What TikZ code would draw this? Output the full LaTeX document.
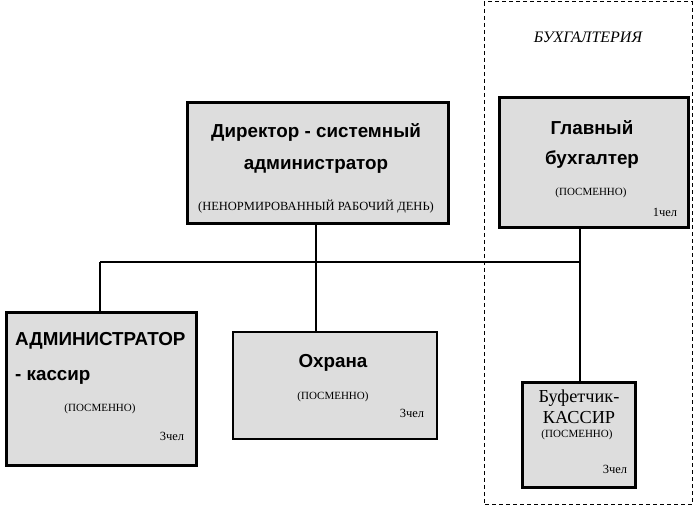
\documentclass[tikz,border=0pt]{standalone}
\usepackage{fontspec}
\setmainfont{Liberation Serif}
\newfontfamily\arialfont{Liberation Sans}
\usetikzlibrary{positioning}
\definecolor{boxgray}{RGB}{221,221,221}
\tikzstyle{unit} = [rectangle, draw=black, line width=3pt, fill=boxgray, inner sep=0pt, anchor=north west]
\tikzstyle{title} = [draw=none, fill=none, text centered, font=\arialfont\bfseries\fontsize{18.8}{22}\selectfont, inner sep=0pt]
\tikzstyle{serif} = [draw=none, fill=none, text centered, font=\fontsize{18.3}{21}\selectfont, inner sep=0pt]
\tikzstyle{note} = [draw=none, fill=none, font=\fontsize{11}{12}\selectfont, inner sep=0pt]
\tikzstyle{staff} = [draw=none, fill=none, font=\fontsize{12.5}{14}\selectfont, inner sep=0pt]
\tikzstyle{link} = [draw, line width=2.5pt]

\begin{document}
\begin{tikzpicture}[x=1pt, y=-1pt]
\useasboundingbox (0,0) rectangle (697,510);

% department =============================
\draw[dashed, line width=1pt, dash pattern=on 4pt off 3pt] (484,2) rectangle (692,505);
\node[note, font=\itshape\fontsize{16}{18}\selectfont] (dept) at (588,37) {БУХГАЛТЕРИЯ};

% boxes =============================
\node[unit, minimum width=261, minimum height=121] (dir) at (185.5,101.5) {};
\node[unit, minimum width=189, minimum height=130] (gb) at (497.5,96.5) {};
\node[unit, minimum width=190, minimum height=153] (adm) at (4.5,311.5) {};
\node[unit, line width=2pt, minimum width=204, minimum height=107] (ohr) at (232,331) {};
\node[unit, minimum width=113, minimum height=105] (buf) at (520.5,381.5) {};

% texts =============================
% director
\node[title] (dir1) at (316,132) {Директор - системный};
\node[title] (dir2) at (316,166) {администратор};
\node[note, font=\fontsize{12.5}{14}\selectfont] (dir3) at (316,207) {(НЕНОРМИРОВАННЫЙ РАБОЧИЙ ДЕНЬ)};

% chief accountant
\node[title] (gb1) at (592,128) {Главный};
\node[title] (gb2) at (592,160) {бухгалтер};
\node[note] (gb3) at (591,193) {(ПОСМЕННО)};
\node[staff] (gb4) at (665,212) {1чел};

% administrator
\node[title, anchor=west] (adm1) at (15,341) {АДМИНИСТРАТОР};
\node[title, anchor=west] (adm2) at (15,377) {- кассир};
\node[note] (adm3) at (100,409) {(ПОСМЕННО)};
\node[staff] (adm4) at (172,436) {3чел};

% guard
\node[title] (ohr1) at (333,363) {Охрана};
\node[note] (ohr2) at (333,397) {(ПОСМЕННО)};
\node[staff] (ohr3) at (412,413) {3чел};

% buffet
\node[serif] (buf1) at (579,398) {Буфетчик-};
\node[serif] (buf2) at (579,418) {КАССИР};
\node[note] (buf3) at (577,435) {(ПОСМЕННО)};
\node[staff] (buf4) at (615,469) {3чел};

%edges
\coordinate (jA) at (100,262);
\coordinate (jD) at (316,262);
\coordinate (jG) at (580,262);

\path[link] (jA) -- (jG);
\path[link] (dir.south -| jD) -- (jD) -- (ohr.north -| jD);
\path[link] (jA) -- (adm.north -| jA);
\path[link] (gb.south -| jG) -- (jG) -- (buf.north -| jG);

\end{tikzpicture}
\end{document}
